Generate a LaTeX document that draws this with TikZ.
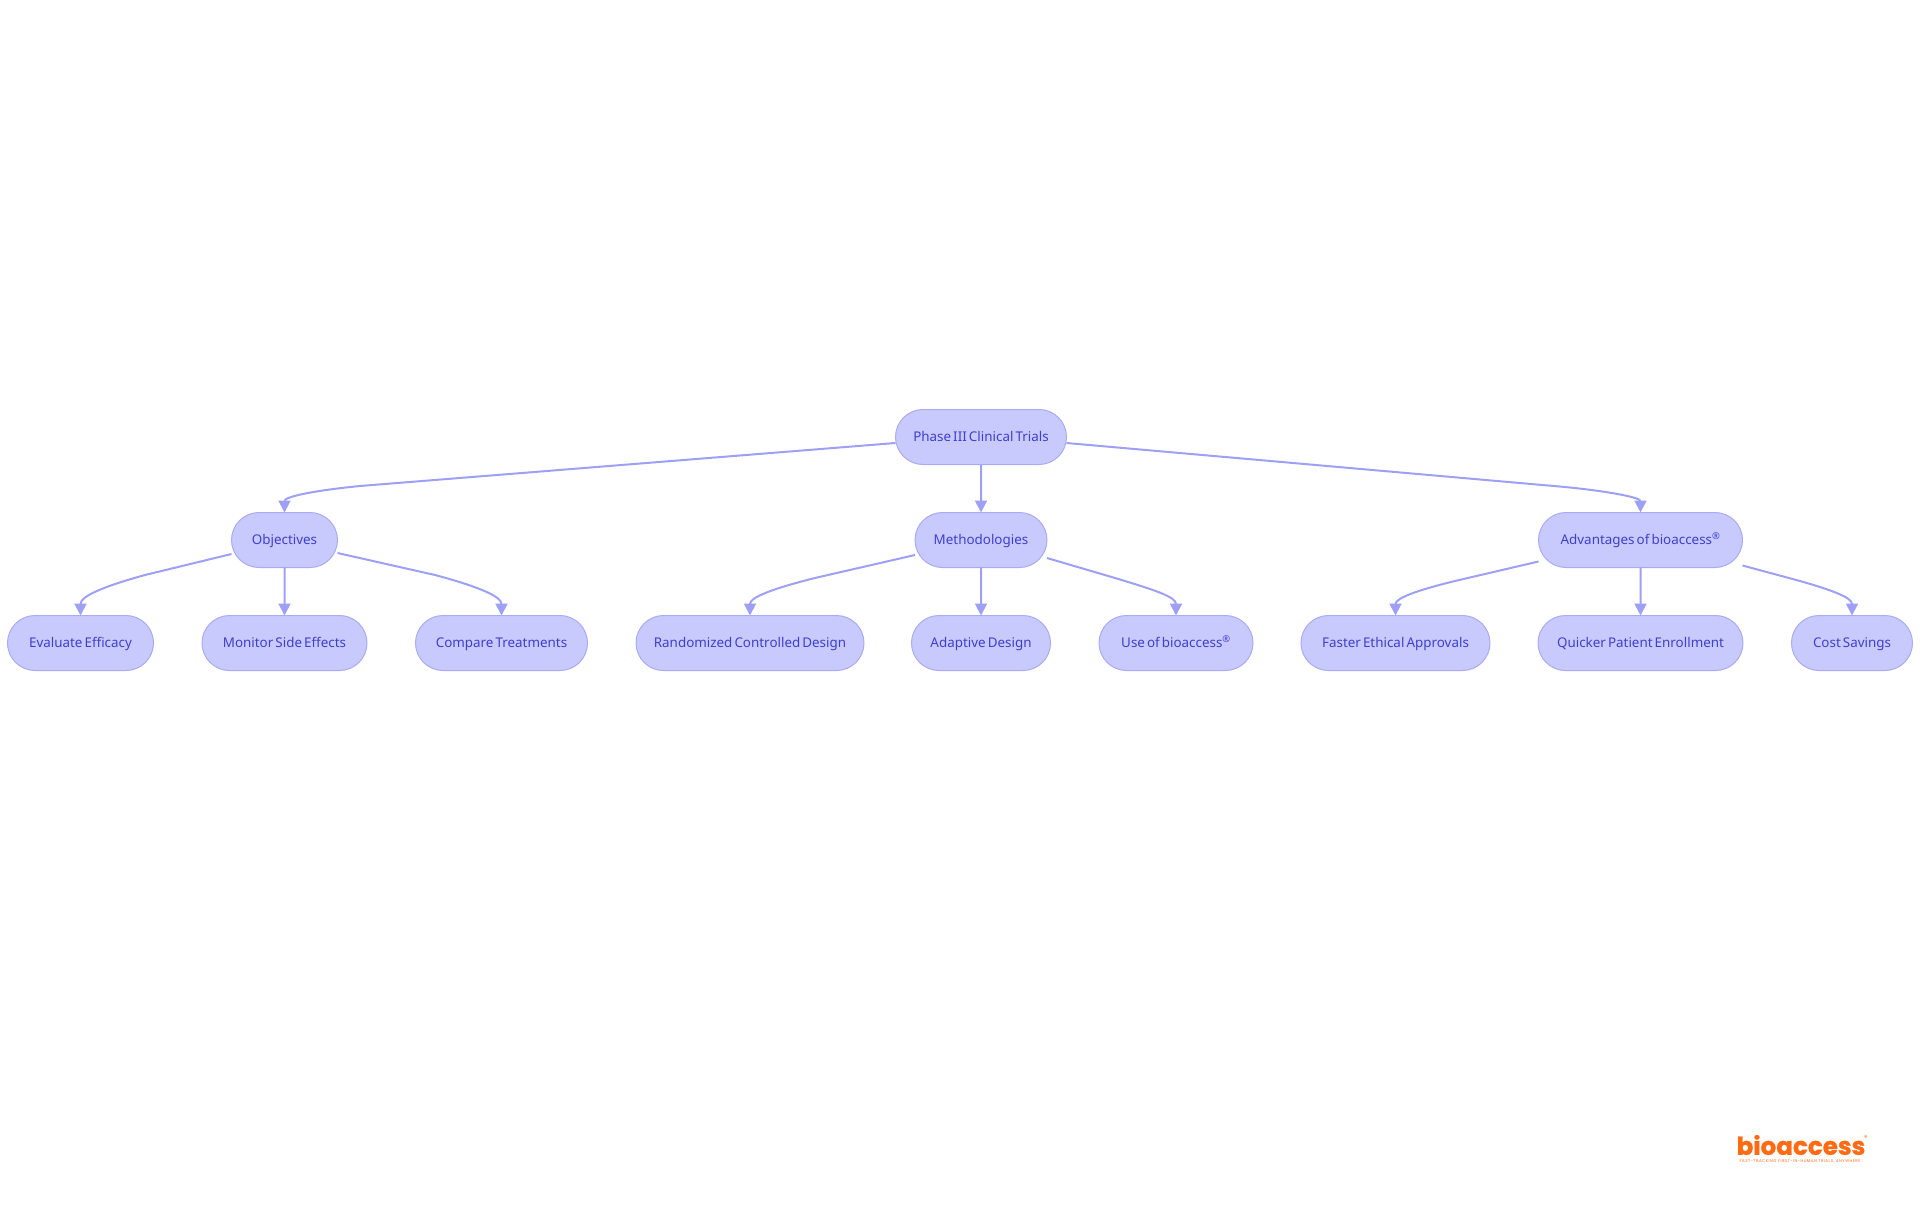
\documentclass[tikz,border=0pt]{standalone}
\usepackage{fontspec}
\setmainfont[WordSpace=0.6]{Noto Sans}
\newfontfamily\logofont[BoldFeatures={FakeBold=1.2}]{Poppins}
\newfontfamily\taglinefont[LetterSpace=12]{Poppins}
\usetikzlibrary{calc,arrows.meta,shapes.misc}
\definecolor{pillfill}{HTML}{C8C9FC}
\definecolor{pillline}{HTML}{A9ABF4}
\definecolor{pilltext}{HTML}{3E3FCF}
\definecolor{edgeline}{HTML}{9EA0F5}
\definecolor{logoorange}{HTML}{FF6A13}
\tikzset{
    pill/.style={rounded rectangle, draw=pillline, fill=pillfill, line width=1pt, outer sep=0pt,
        text=pilltext, minimum height=55pt, inner sep=0pt, text height=11.4pt, text depth=2pt,
        font=\fontsize{13.4}{16}\selectfont},
    edge/.style={draw=edgeline, line width=2pt, -{Triangle[length=12pt,width=12pt]}}
}

\begin{document}
\begin{tikzpicture}[x=1pt, y=-1pt]
    \useasboundingbox (0,0) rectangle (1920,1215);

    \node[pill, minimum width=171pt] (root) at (981, 437) {Phase III Clinical Trials};

    \node[pill, minimum width=106pt] (obj) at (284.5, 540) {Objectives};
    \node[pill, minimum width=132pt] (meth) at (981, 540) {Methodologies};
    \node[pill, minimum width=204pt] (adv) at (1640.5, 540) {Advantages of bioaccess\textsuperscript{®}};

    \node[pill, minimum width=146pt] (eval) at (80.5, 643) {Evaluate Efficacy};
    \node[pill, minimum width=165pt] (monitor) at (284.5, 643) {Monitor Side Effects};
    \node[pill, minimum width=172pt] (compare) at (501.5, 643) {Compare Treatments};
    \node[pill, minimum width=228pt] (rand) at (750, 643) {Randomized Controlled Design};
    \node[pill, minimum width=139pt] (adapt) at (981, 643) {Adaptive Design};
    \node[pill, minimum width=154pt] (use) at (1176, 643) {Use of bioaccess\textsuperscript{®}};
    \node[pill, minimum width=189pt] (faster) at (1395.5, 643) {Faster Ethical Approvals};
    \node[pill, minimum width=205pt] (quick) at (1640.5, 643) {Quicker Patient Enrollment};
    \node[pill, minimum width=121pt] (cost) at (1852, 643) {Cost Savings};

    % first level
    \draw[edge] ($(root.west)+(0,6)$) -- (360,486) .. controls (310,491) and (284.5,497) .. (obj.north);
    \draw[edge] (root) -- (meth);
    \draw[edge] ($(root.east)+(0,6)$) -- (1565,487) .. controls (1615,492) and (1640.5,498) .. (adv.north);

    % second level
    \draw[edge] ($(obj.west)+(0,14)$) -- (145,575) .. controls (105,586) and (80.5,596) .. (eval.north);
    \draw[edge] (obj) -- (monitor);
    \draw[edge] ($(obj.east)+(0,13)$) -- (435,575) .. controls (476,586) and (501.5,596) .. (compare.north);
    \draw[edge] ($(meth.west)+(0,15)$) -- (815,578) .. controls (775,588) and (750,597) .. (rand.north);
    \draw[edge] (meth) -- (adapt);
    \draw[edge] ($(meth.east)+(0,18)$) -- (1115,578) .. controls (1155,590) and (1176,597) .. (use.north);
    \draw[edge] ($(adv.west)+(0,21.5)$) -- (1455,581) .. controls (1418,590) and (1395.5,598) .. (faster.north);
    \draw[edge] (adv) -- (quick);
    \draw[edge] ($(adv.east)+(0,25.5)$) -- (1800,581) .. controls (1835,591) and (1852,598) .. (cost.north);

    % logo
    \node[inner sep=0pt, text=logoorange, font=\logofont\bfseries\fontsize{24.6}{25}\selectfont] (logo) at (1801, 1145) {bioaccess};
    \node[inner sep=0pt, text=logoorange, font=\logofont\fontsize{7}{7}\selectfont] (reg) at (1866, 1138) {®};
    \node[inner sep=0pt, text=logoorange, font=\taglinefont\fontsize{4}{4}\selectfont] (tagline) at (1800, 1161.5) {FAST-TRACKING FIRST-IN-HUMAN TRIALS, ANYWHERE};
\end{tikzpicture}
\end{document}
